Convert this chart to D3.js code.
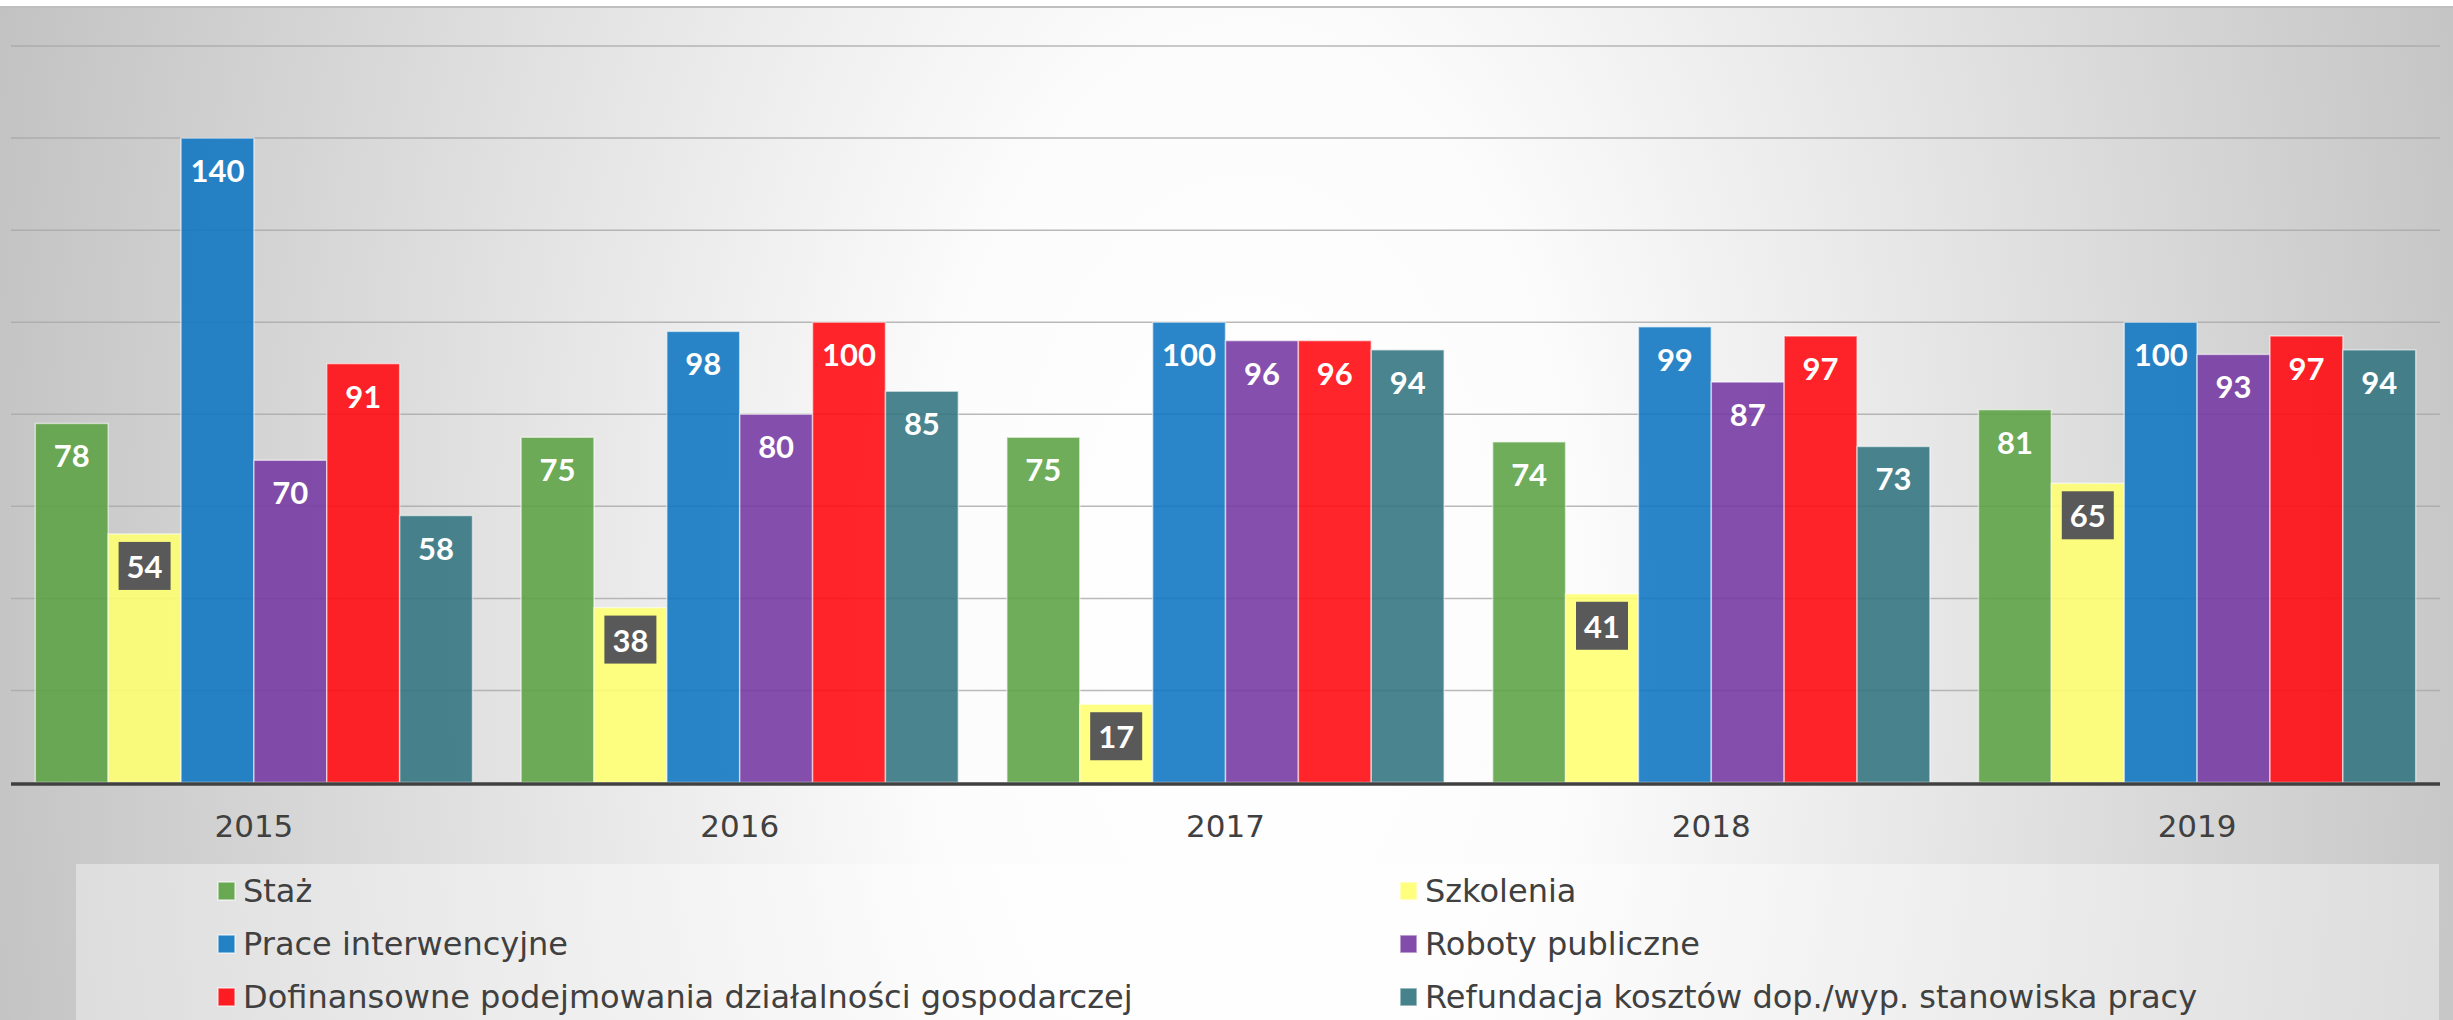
<!DOCTYPE html>
<html>
<head>
<meta charset="utf-8">
<script src="https://cdn.jsdelivr.net/npm/d3@7"></script>
<style>
  html, body { margin: 0; padding: 0; background: #ffffff; }
  svg { display: block; }
</style>
</head>
<body>
<svg id="chart" width="2453" height="1020"></svg>
<script>
// ---- data ----
const years = ["2015", "2016", "2017", "2018", "2019"];
const seriesNames = [
  "Staż",
  "Szkolenia",
  "Prace interwencyjne",
  "Roboty publiczne",
  "Dofinansowne podejmowania działalności gospodarczej",
  "Refundacja kosztów dop./wyp. stanowiska pracy"
];
const stazValues        = [78, 75, 75, 74, 81];
const szkoleniaValues   = [54, 38, 17, 41, 65];
const praceValues       = [140, 98, 100, 99, 100];
const robotyValues      = [70, 80, 96, 87, 93];
const dofinansValues    = [91, 100, 96, 97, 97];
const refundacjaValues  = [58, 85, 94, 73, 94];
const yTicks = [0, 20, 40, 60, 80, 100, 120, 140, 160];
const seriesColors = ["#5ca243", "#ffff6f", "#0d75c2", "#7438a2", "#ff070c", "#31747f"];

const allValues = [stazValues, szkoleniaValues, praceValues, robotyValues, dofinansValues, refundacjaValues];

// ---- layout ----
const W = 2453, H = 1020;
const plot = { left: 11, right: 2440, top: 46, bottom: 782.5 };
const svg = d3.select("#chart");
const defs = svg.append("defs");

const grad = defs.append("radialGradient")
  .attr("id", "bg")
  .attr("gradientUnits", "userSpaceOnUse")
  .attr("cx", 1250).attr("cy", 620).attr("r", 1300)
  .attr("gradientTransform", "translate(1250,620) scale(1,1.8) translate(-1250,-620)");
grad.append("stop").attr("offset", 0).attr("stop-color", "#ffffff");
grad.append("stop").attr("offset", 0.25).attr("stop-color", "#fcfcfc");
grad.append("stop").attr("offset", 1).attr("stop-color", "#c2c2c2");

svg.append("rect").attr("width", W).attr("height", H).attr("fill", "#ffffff");
svg.append("rect").attr("x", 0).attr("y", 8).attr("width", W).attr("height", H - 8).attr("fill", "url(#bg)");
svg.append("rect").attr("x", 0).attr("y", 6).attr("width", W).attr("height", 2).attr("fill", "#bfbfbf");

// ---- scales ----
const x0 = d3.scaleBand().domain(years).range([plot.left, plot.right]).paddingInner(0.1).paddingOuter(0.05);
const x1 = d3.scaleBand().domain(d3.range(seriesNames.length)).range([0, x0.bandwidth()]).padding(0);
const y = d3.scaleLinear().domain([0, 160]).range([plot.bottom, plot.top]);

// gridlines
svg.append("g").selectAll("line").data(yTicks.filter(d => d > 0)).join("line")
  .attr("x1", plot.left).attr("x2", plot.right)
  .attr("y1", d => y(d)).attr("y2", d => y(d))
  .attr("stroke", "#a8a8a8").attr("stroke-width", 1.5).attr("stroke-opacity", 0.8);

// bars
const groups = svg.append("g").selectAll("g").data(years).join("g")
  .attr("transform", d => `translate(${x0(d)},0)`);

const barData = (yi) => allValues.map((vals, si) => ({ si, v: vals[yi] }));

groups.each(function(yr, yi) {
  const g = d3.select(this);
  const data = barData(yi);
  g.selectAll("rect.bar").data(data).join("rect")
    .attr("class", "bar")
    .attr("x", d => x1(d.si))
    .attr("y", d => y(d.v))
    .attr("width", x1.bandwidth())
    .attr("height", d => y(0) - y(d.v))
    .attr("fill", d => seriesColors[d.si])
    .attr("fill-opacity", 0.88)
    .attr("stroke", "#ffffff").attr("stroke-opacity", 0.55).attr("stroke-width", 1.5);

  // label boxes for Szkolenia
  const boxed = data.filter(d => d.si === 1);
  g.selectAll("rect.lbox").data(boxed).join("rect")
    .attr("class", "lbox")
    .attr("x", d => x1(d.si) + x1.bandwidth() / 2 - 26)
    .attr("y", d => y(d.v) + 8)
    .attr("width", 52).attr("height", 48)
    .attr("fill", "#595959");

  g.selectAll("text.lbl").data(data).join("text")
    .attr("class", "lbl")
    .attr("x", d => x1(d.si) + x1.bandwidth() / 2)
    .attr("y", d => y(d.v) + 44)
    .attr("text-anchor", "middle")
    .attr("font-family", "Lato, 'Open Sans', sans-serif")
    .attr("font-weight", "bold")
    .attr("font-size", 31)
    .attr("fill", "#ffffff")
    .text(d => d.v);
});

// baseline
svg.append("line")
  .attr("x1", plot.left).attr("x2", plot.right)
  .attr("y1", y(0) + 1.5).attr("y2", y(0) + 1.5)
  .attr("stroke", "#404040").attr("stroke-width", 3.5);

// x axis labels
svg.append("g").selectAll("text").data(years).join("text")
  .attr("x", d => x0(d) + x0.bandwidth() / 2)
  .attr("y", 837)
  .attr("text-anchor", "middle")
  .attr("font-family", "'DejaVu Sans', sans-serif")
  .attr("font-size", 31)
  .attr("fill", "#404040")
  .text(d => d);

// legend box
svg.append("rect")
  .attr("x", 76).attr("y", 864).attr("width", 2439 - 76).attr("height", H - 864)
  .attr("fill", "#ffffff").attr("fill-opacity", 0.38);

const legendCols = [218, 1400];
const legendRows = [902, 955, 1008];
const legend = svg.append("g").selectAll("g").data(seriesNames).join("g")
  .attr("transform", (d, i) => `translate(${legendCols[i % 2]},${legendRows[Math.floor(i / 2)]})`);
legend.append("rect")
  .attr("x", 0).attr("y", -20).attr("width", 17).attr("height", 18)
  .attr("fill", (d, i) => seriesColors[i]).attr("fill-opacity", 0.9)
  .attr("stroke", "#ffffff").attr("stroke-opacity", 0.6).attr("stroke-width", 1.5);
legend.append("text")
  .attr("x", 25).attr("y", 0)
  .attr("font-family", "'DejaVu Sans', sans-serif")
  .attr("font-size", 32)
  .attr("fill", "#404040")
  .text(d => d);
</script>
</body>
</html>
